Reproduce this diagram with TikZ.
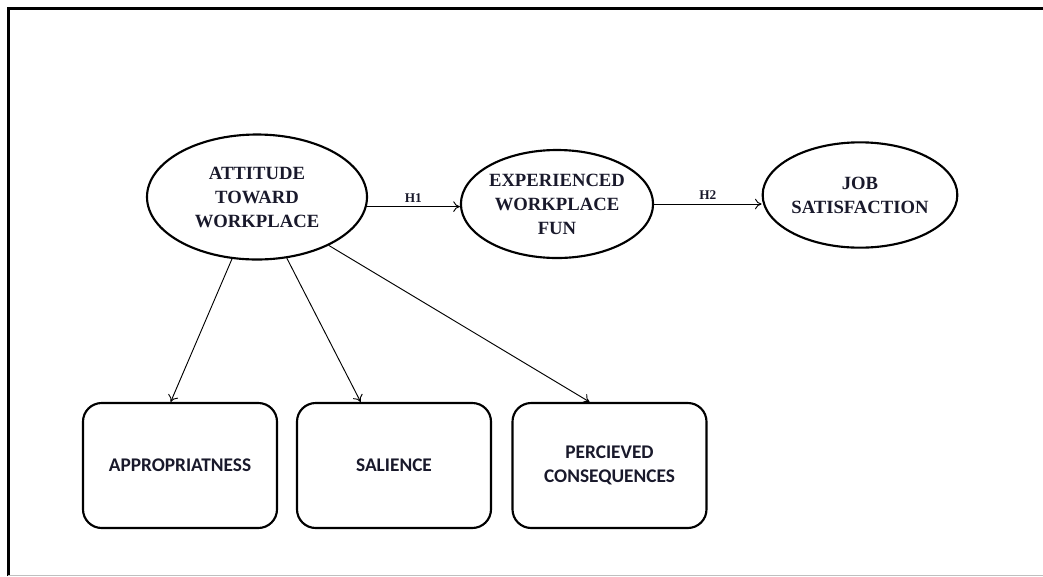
\documentclass[tikz,border=0pt]{standalone}
\usepackage{fontspec}
\setmainfont{Liberation Serif}
\newfontfamily\boxfont{Carlito}
\definecolor{txtcol}{rgb}{0.10,0.10,0.17}
\usetikzlibrary{shapes.geometric,arrows.meta}
\tikzset{
  construct/.style={draw, line width=1.6pt, ellipse, align=center, inner sep=0pt,
    font=\fontsize{14}{18}\selectfont\bfseries, text=txtcol},
  dimbox/.style={draw, line width=1.6pt, rectangle, rounded corners=14pt, align=center,
    minimum width=145.5pt, minimum height=93.75pt,
    font=\boxfont\fontsize{14.5}{18}\selectfont\bfseries, text=txtcol},
  link/.style={-{To[length=5pt,width=8pt]}, line width=0.7pt},
  hyp/.style={font=\fontsize{10}{12}\selectfont\bfseries, text=txtcol, inner sep=3pt}
}
\begin{document}
\begin{tikzpicture}[x=0.75pt,y=0.75pt,yscale=-1,xscale=1]
\useasboundingbox (0,0) rectangle (1043,576);

% Frame
\draw [line width=2.25pt] (8,576) -- (8,8) -- (1043,8);
\draw [color=black!25, line width=0.75pt] (8,575.5) -- (1043,575.5);

% Ellipses
\node [construct, minimum width=165pt, minimum height=93.75pt] (att) at (257,197) {ATTITUDE\\TOWARD\\WORKPLACE};
\node [construct, minimum width=142.5pt, minimum height=81pt] (exp) at (557,204) {EXPERIENCED\\WORKPLACE\\FUN};
\node [construct, minimum width=146pt, minimum height=79pt] (job) at (860,195) {JOB\\SATISFACTION};

% Boxes
\node [dimbox] (app) at (180,465.5) {APPROPRIATNESS};
\node [dimbox] (sal) at (394,465.5) {SALIENCE};
\node [dimbox] (con) at (609.5,465.5) {PERCIEVED\\CONSEQUENCES};

% Hypotheses
\draw [link] (att.-5) -- (exp.west |- att.-5) node [midway, above, hyp] {H1};
\draw [link] (exp.east) -- (exp.east -| job.west) node [midway, above, hyp] {H2};

% Dimensions
\draw [link] (att.248) -- ([xshift=-7pt]app.north);
\draw [link] (att.296) -- ([xshift=-25pt]sal.north);
\draw [link] (att.326) -- ([xshift=-15pt]con.north);

\end{tikzpicture}
\end{document}
